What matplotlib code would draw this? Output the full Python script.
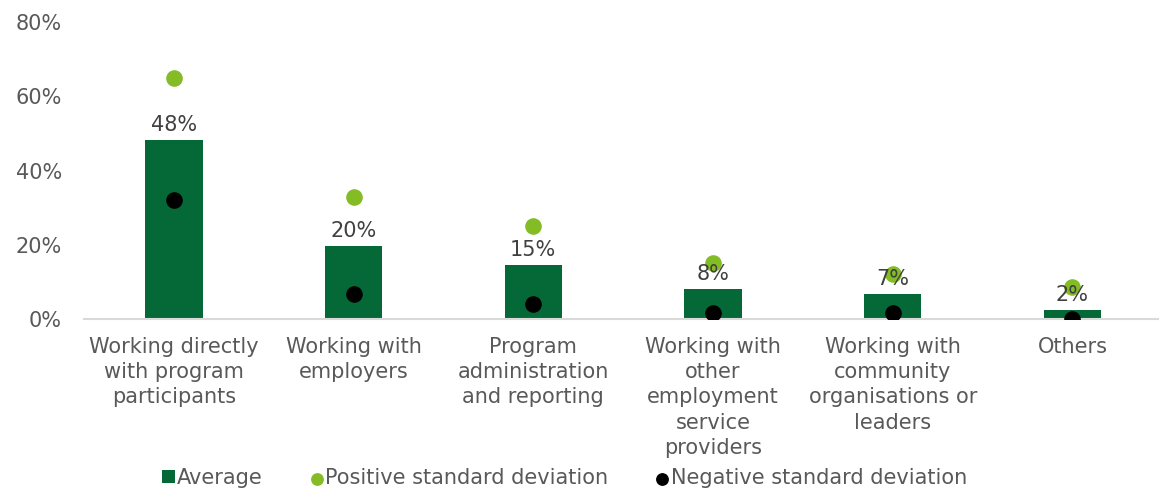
import matplotlib.pyplot as plt
import matplotlib
from matplotlib.ticker import PercentFormatter
matplotlib.rcParams["font.family"] = ["DejaVu Sans"]

categories = ["Working directly\nwith program\nparticipants", "Working with\nemployers",
              "Program\nadministration\nand reporting", "Working with\nother\nemployment\nservice\nproviders",
              "Working with\ncommunity\norganisations or\nleaders", "Others"]
average = [48.2, 19.7, 14.5, 8.1, 6.7, 2.4]
pos_sd = [64.9, 32.8, 25.0, 15.1, 12.2, 8.6]
neg_sd = [32.0, 6.7, 4.0, 1.7, 1.7, 0.0]
bar_labels = ["48%", "20%", "15%", "8%", "7%", "2%"]

dark_green = "#056937"
light_green = "#84BC26"
grey = "#595959"

fig = plt.figure(figsize=(11.59, 4.91), dpi=100)
ax = fig.add_axes([0.0725, 0.350, 0.935, 0.605])
x = list(range(len(categories)))
bars = ax.bar(x, average, width=0.32, color=dark_green, label="Average", zorder=2)
p1 = ax.scatter(x, pos_sd, s=120, color=light_green, label="Positive standard deviation", zorder=3)
p2 = ax.scatter(x, neg_sd, s=120, color="black", label="Negative standard deviation", zorder=3)
for xi, v, lab in zip(x, average, bar_labels):
    ax.text(xi, v + 1.4, lab, ha="center", va="bottom", fontsize=15, color="#404040", zorder=4)

ax.set_ylim(0, 80)
ax.set_xlim(-0.5, 5.53)
ax.set_yticks([0, 20, 40, 60, 80])
ax.yaxis.set_major_formatter(PercentFormatter(decimals=0))
ax.set_xticks(x)
ax.set_xticklabels(categories, fontsize=15, color=grey, linespacing=1.32)
ax.tick_params(axis="y", labelsize=15, labelcolor=grey, length=0, pad=16)
ax.tick_params(axis="x", length=0, pad=13)
for s in ["top", "right", "left"]:
    ax.spines[s].set_visible(False)
ax.spines["bottom"].set_color("#d9d9d9")
ax.spines["bottom"].set_linewidth(1.5)

fig.legend([bars, p1, p2], ["Average", "Positive standard deviation", "Negative standard deviation"],
           loc="lower center", bbox_to_anchor=(0.487, -0.032), ncol=3, frameon=False,
           fontsize=15, labelcolor=grey, handletextpad=0.1, columnspacing=2.3,
           handlelength=0.6, handleheight=0.6, markerscale=0.75)
fig.savefig("out.png", dpi=100)
